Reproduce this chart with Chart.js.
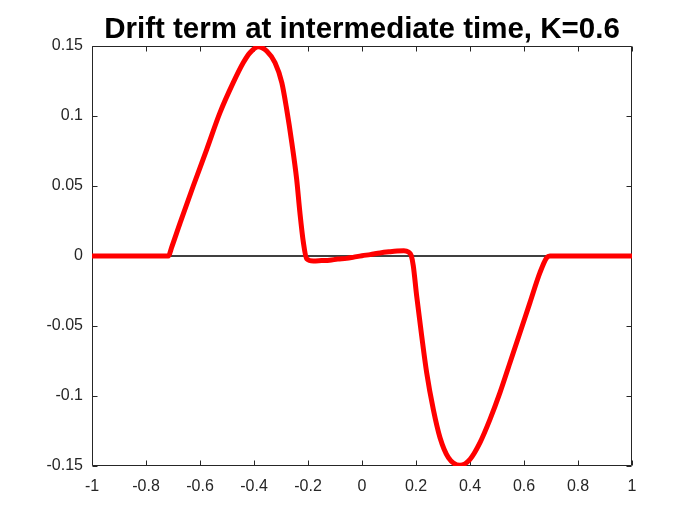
<!DOCTYPE html>
<html>
<head>
<meta charset="utf-8">
<script src="https://cdn.jsdelivr.net/npm/chart.js@4/dist/chart.umd.min.js"></script>
<style>
  html, body { margin: 0; padding: 0; background: #ffffff; }
  canvas { display: block; }
</style>
</head>
<body>
<canvas id="c" width="700" height="525"></canvas>
<script>
const chartTitle = 'Drift term at intermediate time, K=0.6';

const driftX = [-1, -0.717, -0.705, -0.674, -0.625, -0.575, -0.526, -0.477, -0.44, -0.415, -0.384, -0.353, -0.322, -0.297, -0.279, -0.26, -0.242, -0.23, -0.217, -0.205, -0.18, -0.15, -0.12, -0.09, -0.057, -0.03, 0, 0.03, 0.067, 0.1, 0.13, 0.155, 0.172, 0.182, 0.19, 0.2025, 0.221, 0.2395, 0.264, 0.289, 0.32, 0.363, 0.4, 0.437, 0.474, 0.511, 0.548, 0.585, 0.622, 0.659, 0.684, 0.696, 1];
const driftY = [0, 0, 0.0062, 0.0235, 0.05, 0.0762, 0.1024, 0.1238, 0.138, 0.1452, 0.1495, 0.1464, 0.138, 0.1238, 0.1048, 0.081, 0.0548, 0.031, 0.0095, -0.002, -0.0036, -0.0033, -0.003, -0.0022, -0.0017, -0.0008, 0.0002, 0.001, 0.0022, 0.003, 0.0036, 0.0038, 0.0028, 0.0005, -0.007, -0.0286, -0.057, -0.0833, -0.1095, -0.1298, -0.144, -0.1495, -0.1452, -0.1333, -0.1167, -0.0976, -0.0762, -0.0548, -0.0333, -0.0119, -0.0012, 0, 0];

const zeroLineX = [-1, 1];
const zeroLineY = [0, 0];

const xTicks = [-1, -0.8, -0.6, -0.4, -0.2, 0, 0.2, 0.4, 0.6, 0.8, 1];
const yTicks = [-0.15, -0.1, -0.05, 0, 0.05, 0.1, 0.15];

const toPoints = (xs, ys) => xs.map((x, i) => ({ x: x, y: ys[i] }));

const axisColor = '#262626';
const fontFamily = '"Liberation Sans", Arial, Helvetica, sans-serif';

const boxPlugin = {
  id: 'matlabBox',
  beforeDatasetsDraw(chart) {
    const { ctx, chartArea: a, scales } = chart;
    ctx.save();
    ctx.strokeStyle = axisColor;
    ctx.lineWidth = 1;
    const L = Math.round(a.left) + 0.5, R = Math.round(a.right) - 0.5;
    const T = Math.round(a.top) + 0.5, B = Math.round(a.bottom) - 0.5;
    ctx.beginPath();
    ctx.rect(L, T, R - L, B - T);
    const tl = 5;
    scales.x.ticks.forEach(t => {
      const px = Math.round(scales.x.getPixelForValue(t.value)) + 0.5;
      ctx.moveTo(px, B); ctx.lineTo(px, B - tl);
      ctx.moveTo(px, T); ctx.lineTo(px, T + tl);
    });
    scales.y.ticks.forEach(t => {
      const py = Math.round(scales.y.getPixelForValue(t.value)) + 0.5;
      ctx.moveTo(L, py); ctx.lineTo(L + tl, py);
      ctx.moveTo(R, py); ctx.lineTo(R - tl, py);
    });
    ctx.stroke();
    ctx.restore();
  },
  afterDraw(chart) {
    const { ctx, chartArea: a } = chart;
    ctx.save();
    ctx.fillStyle = '#000000';
    ctx.font = 'bold 29.5px ' + fontFamily;
    ctx.textAlign = 'center';
    ctx.textBaseline = 'alphabetic';
    ctx.fillText(chartTitle, (a.left + a.right) / 2, 38);
    ctx.restore();
  }
};

new Chart(document.getElementById('c'), {
  type: 'scatter',
  data: {
    datasets: [
      {
        data: toPoints(driftX, driftY),
        showLine: true,
        borderColor: '#ff0000',
        backgroundColor: '#ff0000',
        borderWidth: 5,
        pointRadius: 0,
        cubicInterpolationMode: 'monotone',
        borderCapStyle: 'round',
        borderJoinStyle: 'round',
        order: 1
      },
      {
        data: toPoints(zeroLineX, zeroLineY),
        showLine: true,
        borderColor: '#000000',
        borderWidth: 1.5,
        pointRadius: 0,
        order: 2
      }
    ]
  },
  options: {
    responsive: false,
    animation: false,
    devicePixelRatio: 1,
    layout: { padding: { left: 0, right: 68, top: 46, bottom: 0 } },
    plugins: {
      legend: { display: false },
      tooltip: { enabled: false },
      title: { display: false }
    },
    scales: {
      x: {
        type: 'linear',
        min: -1,
        max: 1,
        afterBuildTicks: s => { s.ticks = xTicks.map(v => ({ value: v })); },
        afterFit: s => { s.height = 59; },
        grid: { display: false, drawTicks: false },
        border: { display: false },
        ticks: {
          color: axisColor,
          font: { family: fontFamily, size: 16 },
          padding: 11,
          maxRotation: 0,
          autoSkip: false,
          callback: v => String(v)
        }
      },
      y: {
        type: 'linear',
        min: -0.15,
        max: 0.15,
        afterBuildTicks: s => { s.ticks = yTicks.map(v => ({ value: v })); },
        afterFit: s => { s.width = 92; },
        grid: { display: false, drawTicks: false },
        border: { display: false },
        ticks: {
          color: axisColor,
          font: { family: fontFamily, size: 16 },
          padding: 9,
          autoSkip: false,
          callback: v => String(v)
        }
      }
    }
  },
  plugins: [boxPlugin]
});
</script>
</body>
</html>
